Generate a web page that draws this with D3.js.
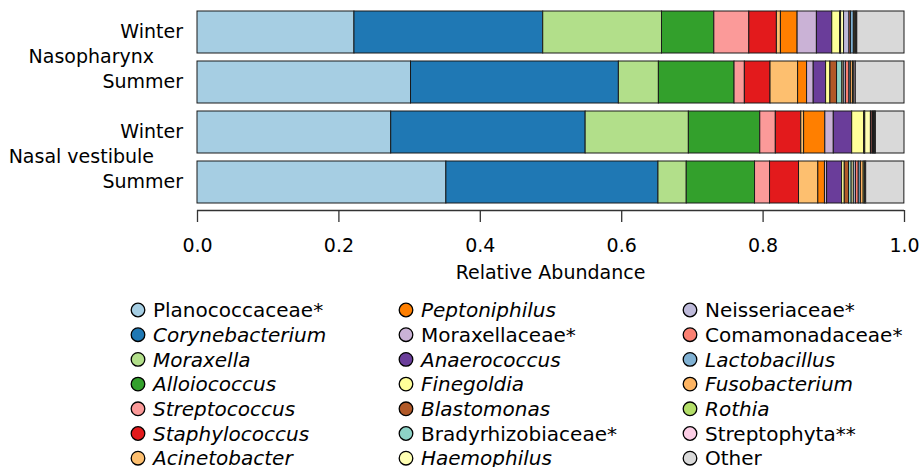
<!DOCTYPE html>
<html>
<script src="https://cdn.jsdelivr.net/npm/d3@7"></script>
<style>
  body { margin: 0; background: white; }
  text { font-family: "DejaVu Sans", sans-serif; font-size: 19px; fill: black; }
</style>
<body>
<svg width="921" height="467"></svg>
<script>
// taxa, in stacking order
var taxa = ["Planococcaceae*", "Corynebacterium", "Moraxella", "Alloiococcus", "Streptococcus",
  "Staphylococcus", "Acinetobacter", "Peptoniphilus", "Moraxellaceae*", "Anaerococcus",
  "Finegoldia", "Blastomonas", "Bradyrhizobiaceae*", "Haemophilus", "Neisseriaceae*",
  "Comamonadaceae*", "Lactobacillus", "Fusobacterium", "Rothia", "Streptophyta**", "Other"];
var italicTaxa = ["Corynebacterium", "Moraxella", "Alloiococcus", "Streptococcus", "Staphylococcus",
  "Acinetobacter", "Peptoniphilus", "Anaerococcus", "Finegoldia", "Blastomonas", "Haemophilus",
  "Lactobacillus", "Fusobacterium", "Rothia"];
var colors = ["#a6cee3", "#1f78b4", "#b2df8a", "#33a02c", "#fb9a99", "#e31a1c", "#fdbf6f",
  "#ff7f00", "#cab2d6", "#6a3d9a", "#ffff99", "#b15928", "#8dd3c7", "#ffffb3", "#bebada",
  "#fb8072", "#80b1d3", "#fdb462", "#b3de69", "#fccde5", "#d9d9d9"];

var samples = ["Nasopharynx Winter", "Nasopharynx Summer", "Nasal vestibule Winter", "Nasal vestibule Summer"];
var seasons = ["Winter", "Summer", "Winter", "Summer"];
var sites = ["Nasopharynx", "Nasal vestibule"];

var npWinter = [0.222, 0.267, 0.168, 0.074, 0.0495, 0.039, 0.0057, 0.0236, 0.0273, 0.0217,
  0.0113, 0.0007, 0.0005, 0.0042, 0.0077, 0.002, 0.0042, 0.002, 0.0014, 0.0014, 0.0668];
var npSummer = [0.302, 0.294, 0.0566, 0.107, 0.0146, 0.0363, 0.039, 0.0127, 0.0094, 0.0175,
  0.0061, 0.0094, 0.0075, 0.002, 0.003, 0.005, 0.002, 0.003, 0.002, 0.002, 0.0689];
var nvWinter = [0.274, 0.275, 0.146, 0.101, 0.022, 0.036, 0.004, 0.030, 0.012, 0.026,
  0.017, 0.001, 0.0005, 0.008, 0.001, 0.002, 0.001, 0.001, 0.001, 0.001, 0.0405];
var nvSummer = [0.352, 0.300, 0.040, 0.0966, 0.0212, 0.041, 0.0273, 0.0094, 0.003, 0.0212,
  0.0038, 0.006, 0.0038, 0.003, 0.003, 0.004, 0.003, 0.004, 0.002, 0.0015, 0.054];
var abundance = [npWinter, npSummer, nvWinter, nvSummer];

var xTicks = [0, 0.2, 0.4, 0.6, 0.8, 1.0];

var svg = d3.select("svg");

var x = d3.scaleLinear().domain([0, 1]).range([197, 904]);
var y = d3.scaleBand().domain(samples).range([7, 207]).paddingInner(0.16).paddingOuter(0.08);
var color = d3.scaleOrdinal().domain(taxa).range(colors);

// stacked bars
abundance.forEach(function(vals, i) {
  var cum = d3.cumsum(vals);
  var segs = vals.map(function(v, j) {
    return {taxon: taxa[j], x0: cum[j] - v, x1: cum[j]};
  });
  svg.append("g")
    .selectAll("rect")
    .data(segs)
    .enter()
    .append("rect")
    .attr("x", function(d) { return x(d.x0); })
    .attr("width", function(d) { return x(d.x1) - x(d.x0); })
    .attr("y", y(samples[i]))
    .attr("height", y.bandwidth())
    .attr("fill", function(d) { return color(d.taxon); })
    .attr("stroke", "#1a1a1a")
    .attr("stroke-width", 1);
});

// y labels
svg.append("g")
  .selectAll("text")
  .data(samples)
  .enter()
  .append("text")
  .attr("x", 183)
  .attr("y", function(d) { return y(d) + y.bandwidth() / 2 - 1; })
  .attr("dy", "0.35em")
  .attr("text-anchor", "end")
  .text(function(d, i) { return seasons[i]; });

svg.append("g")
  .selectAll("text")
  .data(sites)
  .enter()
  .append("text")
  .attr("x", 154)
  .attr("y", function(d, i) {
    return (y(samples[2 * i]) + y(samples[2 * i + 1]) + y.bandwidth()) / 2 - 1;
  })
  .attr("dy", "0.35em")
  .attr("text-anchor", "end")
  .text(function(d) { return d; });

// x axis
var axis = svg.append("g")
  .attr("transform", "translate(0,210)")
  .call(d3.axisBottom(x).tickValues(xTicks).tickFormat(d3.format(".1f")).tickSize(12).tickPadding(17));
axis.select(".domain").attr("stroke", "#333").attr("stroke-width", 1.3).attr("d", "M197,0.5H904");
axis.selectAll(".tick line").attr("stroke", "#333").attr("stroke-width", 1.3);
axis.selectAll(".tick text").style("font-size", "19px").style("font-family", "DejaVu Sans").attr("fill", "black");

svg.append("text")
  .attr("x", x(0.5))
  .attr("y", 279)
  .attr("text-anchor", "middle")
  .text("Relative Abundance");

// legend
var colX = [138, 406, 690];
var legend = svg.append("g")
  .selectAll("g")
  .data(taxa)
  .enter()
  .append("g")
  .attr("transform", function(d, i) {
    return "translate(" + colX[Math.floor(i / 7)] + "," + (310 + (i % 7) * 24.7) + ")";
  });
legend.append("circle")
  .attr("r", 6.8)
  .attr("fill", function(d) { return color(d); })
  .attr("stroke", "black")
  .attr("stroke-width", 1.3);
legend.append("text")
  .attr("x", 15)
  .attr("dy", "0.36em")
  .style("font-size", "20px")
  .style("font-style", function(d) { return italicTaxa.indexOf(d) >= 0 ? "italic" : "normal"; })
  .text(function(d) { return d; });
</script>
</body>
</html>
